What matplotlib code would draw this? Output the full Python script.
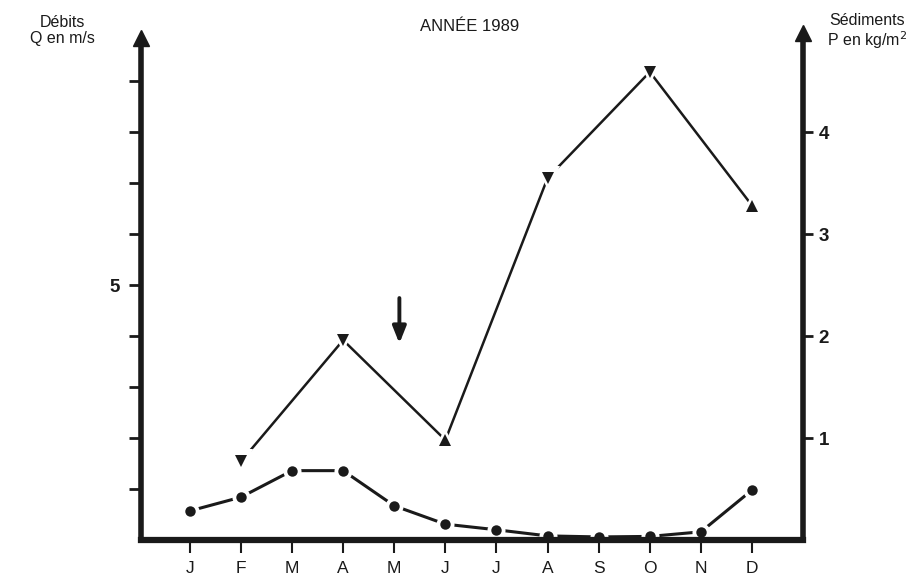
import numpy as np
import matplotlib.pyplot as plt

plt.rcParams['font.family'] = ['Liberation Sans', 'DejaVu Sans']

months = ['J', 'F', 'M', 'A', 'M', 'J', 'J', 'A', 'S', 'O', 'N', 'D']

# Debits Q (m/s), left axis, one value per month
q_values = [0.57, 0.84, 1.36, 1.36, 0.67, 0.31, 0.20, 0.08, 0.06, 0.07, 0.16, 0.98]

# Sediments P (kg/m2), right axis, sampled months only
p_months = [1, 3, 5, 7, 9, 11]
p_values = [0.77, 1.96, 0.98, 3.55, 4.59, 3.28]
p_markers = ['v', 'v', '^', 'v', 'v', '^']

ink = '#1a1a1a'

fig = plt.figure(figsize=(9.2, 5.8), dpi=100)
ax = fig.add_axes([0.153, 0.069, 0.72, 0.879])
ax2 = ax.twinx()

x = np.arange(len(months))

# Q series: line, white halo to make gaps, then dots
ax.plot(x, q_values, color=ink, lw=2.2, zorder=2, solid_capstyle='butt')
ax.plot(x, q_values, 'o', color='white', ms=13, zorder=3, mew=0)
ax.plot(x, q_values, 'o', color=ink, ms=7.5, zorder=4, mew=0)

# P series
ax2.plot(p_months, p_values, color=ink, lw=1.8, zorder=2)
for xm, yv, m in zip(p_months, p_values, p_markers):
    ax2.plot(xm, yv, m, color='white', ms=17, mew=0, zorder=3)
    ax2.plot(xm, yv, m, color=ink, ms=8.5, mew=0, zorder=4)

# arrow above May
ax.annotate('', xy=(4.1, 3.8), xytext=(4.1, 4.8),
            arrowprops=dict(arrowstyle='-|>,head_width=0.4,head_length=1.0',
                            color=ink, lw=2.8))

ax.set_xlim(-0.96, 12.0)
ax.set_ylim(0, 10)
ax2.set_ylim(0, 5)

for a in (ax, ax2):
    a.spines['top'].set_visible(False)
    a.patch.set_visible(False)
for s in ax.spines.values():
    s.set_zorder(10)
ax.spines['left'].set_linewidth(4)
ax.spines['left'].set_bounds(0, 9.75)
ax.spines['bottom'].set_linewidth(4.5)
ax.spines['right'].set_visible(False)
ax2.spines['left'].set_visible(False)
ax2.spines['bottom'].set_visible(False)
ax2.spines['right'].set_linewidth(4)
ax2.spines['right'].set_bounds(0, 4.95)
for s in ('left', 'bottom'):
    ax.spines[s].set_color(ink)
ax2.spines['right'].set_color(ink)

ax.set_xticks(x)
ax.set_xticklabels(months, fontsize=12.5, color=ink)
ax.tick_params(axis='x', length=9, width=1.5, pad=6, color=ink)

ax.set_yticks(range(1, 10))
ax.set_yticklabels(['' if v != 5 else '5' for v in range(1, 10)],
                   fontsize=13.5, fontweight='bold', color=ink)
ax.tick_params(axis='y', length=9, width=2, pad=6, color=ink)

ax2.set_yticks([1, 2, 3, 4])
ax2.set_yticklabels(['1', '2', '3', '4'], fontsize=13.5, fontweight='bold', color=ink)
ax2.tick_params(axis='y', length=7, width=2, pad=4, color=ink)

# arrow heads at top of vertical axes
ax.plot([0], [0.984], '^', transform=ax.transAxes, color=ink, ms=11, clip_on=False, zorder=11)
ax.plot([1], [0.994], '^', transform=ax.transAxes, color=ink, ms=11, clip_on=False, zorder=11)

fig.text(0.068, 0.948, 'Débits\nQ en m/s', ha='center', va='center',
         fontsize=11.5, color=ink, linespacing=1.1)
fig.text(0.943, 0.945, 'Sédiments\nP en kg/m$^2$', ha='center', va='center',
         fontsize=11.5, color=ink, linespacing=1.1)
fig.text(0.51, 0.955, 'ANNÉE 1989', ha='center', va='center',
         fontsize=12, color=ink)

fig.savefig('out.png', dpi=100)
